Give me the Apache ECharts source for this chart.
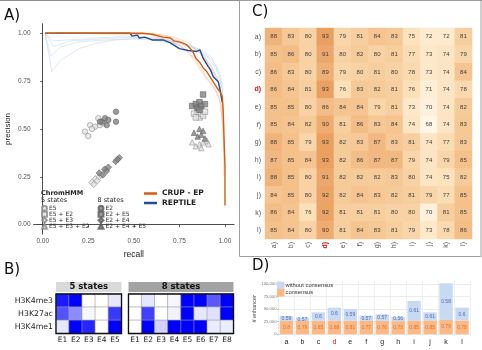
<!DOCTYPE html>
<html>
<head>
<meta charset="utf-8">
<script src="https://cdn.jsdelivr.net/npm/echarts@6/dist/echarts.min.js"></script>
<style>
html, body { margin: 0; padding: 0; background: #fff; }
#chart { width: 482px; height: 350px; }
</style>
</head>
<body>
<div id="chart"></div>
<script>
// ---------- A) precision / recall ----------
const recallTicks = [0, 0.25, 0.5, 0.75, 1];
const precisionTicks = [0, 0.25, 0.5, 0.75, 1];

const crupMain = [[0.013,1],[0.073,1],[0.48,1],[0.55,1],[0.6,0.995],[0.66,0.98],[0.7,0.975],[0.72,0.96],[0.75,0.955],[0.78,0.945],[0.8,0.93],[0.82,0.91],[0.84,0.87],[0.86,0.85],[0.88,0.82],[0.9,0.8],[0.92,0.77],[0.94,0.74],[0.96,0.71],[0.975,0.69],[0.985,0.67],[0.99,0.6],[0.995,0.45],[1,0.3],[1,0.1]];
const reptileMain = [[0.013,1],[0.073,1],[0.48,1],[0.49,0.985],[0.52,0.99],[0.53,0.975],[0.56,0.98],[0.6,0.965],[0.66,0.965],[0.7,0.95],[0.75,0.92],[0.8,0.91],[0.845,0.905],[0.863,0.913],[0.88,0.87],[0.908,0.826],[0.92,0.81],[0.936,0.773],[0.963,0.747],[0.973,0.704],[0.985,0.64]];

const crupRuns = [
  [[0.073,1],[0.55,1],[0.62,0.99],[0.7,0.96],[0.78,0.92],[0.84,0.86],[0.88,0.8],[0.92,0.74],[0.95,0.7],[0.98,0.62],[0.995,0.4]],
  [[0.073,1],[0.6,1],[0.68,0.985],[0.75,0.96],[0.82,0.93],[0.88,0.88],[0.92,0.83],[0.95,0.78],[0.975,0.72],[0.99,0.55],[1,0.3]],
  [[0.073,1],[0.58,0.995],[0.66,0.97],[0.74,0.94],[0.8,0.9],[0.85,0.83],[0.9,0.76],[0.94,0.72],[0.97,0.66],[0.99,0.5],[0.995,0.25]],
  [[0.073,1],[0.62,0.995],[0.72,0.98],[0.8,0.95],[0.86,0.9],[0.9,0.85],[0.93,0.8],[0.96,0.75],[0.985,0.68],[0.995,0.5]]
];
const reptileRuns = [
  [[0.013,1],[0.05,0.8],[0.1,0.86],[0.2,0.92],[0.3,0.95],[0.4,0.965],[0.5,0.97],[0.6,0.965],[0.7,0.95],[0.8,0.93],[0.88,0.9],[0.93,0.86],[0.97,0.8],[0.99,0.7]],
  [[0.013,1],[0.045,0.88],[0.1,0.93],[0.2,0.955],[0.35,0.965],[0.45,0.97],[0.55,0.975],[0.7,0.96],[0.8,0.94],[0.9,0.88],[0.95,0.82],[0.98,0.72]],
  [[0.013,1],[0.06,0.93],[0.15,0.96],[0.4,0.975],[0.5,0.98],[0.65,0.97],[0.8,0.935],[0.88,0.91],[0.93,0.87],[0.97,0.78],[0.99,0.68]],
  [[0.013,1],[0.055,0.96],[0.45,0.985],[0.6,0.975],[0.75,0.95],[0.85,0.92],[0.92,0.84],[0.96,0.76]]
];

// ChromHMM points [recall, precision]
const e5 = [[0.232,0.486],[0.25,0.463],[0.26,0.52],[0.287,0.512],[0.305,0.556],[0.314,0.52],[0.27,0.5],[0.332,0.53]];
const e5e2 = [[0.83,0.58],[0.85,0.59],[0.86,0.56],[0.87,0.58],[0.88,0.57],[0.89,0.59],[0.84,0.56]];
const e5e3 = [[0.27,0.22],[0.28,0.21],[0.29,0.24],[0.3,0.23],[0.31,0.25],[0.32,0.26]];
const e5e3e2 = [[0.82,0.43],[0.84,0.41],[0.86,0.42],[0.88,0.43],[0.9,0.44],[0.91,0.42],[0.87,0.4]];
const e2 = [[0.324,0.538],[0.342,0.556],[0.351,0.52],[0.314,0.538],[0.36,0.547],[0.402,0.59],[0.402,0.538]];
const e2e5 = [[0.82,0.62],[0.84,0.63],[0.85,0.61],[0.86,0.64],[0.87,0.62],[0.88,0.68],[0.89,0.63],[0.86,0.6]];
const e2e4 = [[0.31,0.27],[0.33,0.26],[0.34,0.29],[0.35,0.28],[0.36,0.3],[0.4,0.33],[0.42,0.35],[0.41,0.34]];
const e2e4e5 = [[0.83,0.48],[0.85,0.46],[0.86,0.5],[0.87,0.47],[0.88,0.49],[0.89,0.45]];

// ---------- B) emission heatmaps ----------
const marks = ['H3K4me3', 'H3K27ac', 'H3K4me1'];
const states5 = ['E1', 'E2', 'E3', 'E4', 'E5'];
const states8 = ['E1', 'E2', 'E3', 'E4', 'E5', 'E6', 'E7', 'E8'];
const emission5 = [
  [0.9, 1.0, 0.0, 0.0, 0.1],
  [0.68, 0.45, 0.03, 0.0, 0.78],
  [0.1, 1.0, 0.85, 0.0, 1.0]
];
const emission8 = [
  [0.0, 0.1, 0.0, 0.03, 1.0, 1.0, 0.65, 1.0],
  [0.0, 0.75, 0.0, 0.05, 1.0, 0.1, 0.12, 1.0],
  [0.0, 1.0, 0.18, 1.0, 1.0, 1.0, 0.08, 0.08]
];

// ---------- C) cross-sample matrix ----------
const sampleRows = ['a)', 'b)', 'c)', 'd)', 'e)', 'f)', 'g)', 'h)', 'i)', 'j)', 'k)', 'l)'];
const sampleCols = ['a)', 'b)', 'c)', 'd)', 'e)', 'f)', 'g)', 'h)', 'i)', 'j)', 'k)', 'l)'];
const accMatrix = [
  [88, 83, 80, 93, 79, 81, 84, 83, 75, 72, 72, 81],
  [85, 86, 80, 91, 80, 82, 80, 81, 77, 73, 74, 79],
  [86, 83, 80, 89, 79, 80, 81, 80, 78, 73, 74, 84],
  [86, 84, 81, 93, 76, 83, 82, 81, 76, 71, 74, 78],
  [85, 85, 80, 86, 84, 84, 79, 81, 73, 70, 74, 82],
  [85, 84, 82, 90, 81, 86, 83, 84, 74, 68, 74, 83],
  [88, 85, 79, 93, 82, 83, 87, 83, 81, 74, 77, 83],
  [87, 85, 84, 93, 82, 86, 87, 87, 79, 74, 79, 85],
  [88, 85, 80, 91, 82, 82, 82, 83, 80, 74, 75, 82],
  [84, 85, 80, 92, 82, 84, 83, 82, 81, 79, 77, 85],
  [86, 84, 76, 92, 81, 81, 81, 80, 80, 70, 81, 85],
  [85, 84, 80, 90, 81, 84, 83, 81, 79, 73, 78, 86]
];

// ---------- D) enhancer counts ----------
const samples = ['a', 'b', 'c', 'd', 'e', 'f', 'g', 'h', 'i', 'j', 'k', 'l'];
const consensusCounts = [26500, 26500, 27000, 27500, 27000, 26500, 26500, 26000, 27500, 27500, 28500, 27000];
const withoutCounts = [9900, 6600, 16700, 25500, 23300, 10500, 13200, 8400, 38700, 16200, 72900, 26000];
const consensusLabels = ['0.8', '0.79', '0.85', '0.88', '0.81', '0.77', '0.76', '0.73', '0.85', '0.85', '0.79', '0.78'];
const withoutLabels = ['0.59', '0.57', '0.6', '0.6', '0.59', '0.57', '0.57', '0.56', '0.61', '0.61', '0.58', '0.6'];
const enhancerTicks = [0, 25000, 50000, 75000, 100000];

// ---------- layout ----------
const gA = { left: 33.6, top: 23.7, width: 200.5, height: 210.5 };
const gB5 = { left: 56, top: 294, width: 65.5, height: 39.5 };
const gB8 = { left: 128.5, top: 294, width: 105, height: 39.5 };
const gC = { left: 265, top: 28, width: 207, height: 211 };
const gD = { left: 278.5, top: 280.7, width: 191.5, height: 56.1 };

const sansAxis = 'Liberation Sans';
const sansText = 'DejaVu Sans';

const chart = echarts.init(document.getElementById('chart'), null, { renderer: 'canvas' });

const series = [];

// faint replicate runs
crupRuns.forEach((d, i) => series.push({
  name: 'crup run ' + i, type: 'line', xAxisIndex: 0, yAxisIndex: 0, data: d,
  symbol: 'none', lineStyle: { color: '#f3b27e', width: 0.6, opacity: 0.8 }, z: 2
}));
reptileRuns.forEach((d, i) => series.push({
  name: 'reptile run ' + i, type: 'line', xAxisIndex: 0, yAxisIndex: 0, data: d,
  symbol: 'none', lineStyle: { color: '#c3d3ea', width: 0.6, opacity: 0.9 }, z: 2
}));
series.push({
  name: 'CRUP - EP', type: 'line', xAxisIndex: 0, yAxisIndex: 0, data: crupMain,
  symbol: 'none', color: '#cf5f14', lineStyle: { color: '#cf5f14', width: 1.4 }, z: 4
});
series.push({
  name: 'REPTILE', type: 'line', xAxisIndex: 0, yAxisIndex: 0, data: reptileMain,
  symbol: 'none', color: '#1f4e96', lineStyle: { color: '#1f4e96', width: 1.4 }, z: 3
});

const openStyle = { color: '#e3e3e3', borderColor: '#8a8a8a', borderWidth: 0.7 };
const filledStyle = { color: '#858585', borderColor: '#5a5a5a', borderWidth: 0.7 };
const pts = [
  ['E5', e5, 'circle', openStyle],
  ['E5 + E2', e5e2, 'rect', openStyle],
  ['E5 + E3', e5e3, 'diamond', openStyle],
  ['E5 + E3 + E2', e5e3e2, 'triangle', openStyle],
  ['E2', e2, 'circle', filledStyle],
  ['E2 + E5', e2e5, 'rect', filledStyle],
  ['E2 + E4', e2e4, 'diamond', filledStyle],
  ['E2 + E4 + E5', e2e4e5, 'triangle', filledStyle]
];
pts.forEach(p => series.push({
  name: p[0], type: 'scatter', xAxisIndex: 0, yAxisIndex: 0, data: p[1],
  symbol: p[2], symbolSize: p[2] === 'diamond' ? 6.5 : 5.5, itemStyle: p[3], z: 5
}));

// B heatmaps
const toCells = m => {
  const out = [];
  m.forEach((row, r) => row.forEach((v, c) => out.push([c, r, v])));
  return out;
};
const idxB5 = series.length;
series.push({
  type: 'heatmap', xAxisIndex: 1, yAxisIndex: 1, data: toCells(emission5),
  itemStyle: { borderColor: '#9a9a9a', borderWidth: 0.6 }
});
const idxB8 = series.length;
series.push({
  type: 'heatmap', xAxisIndex: 2, yAxisIndex: 2, data: toCells(emission8),
  itemStyle: { borderColor: '#9a9a9a', borderWidth: 0.6 }
});

// C matrix
const idxC = series.length;
series.push({
  type: 'heatmap', xAxisIndex: 3, yAxisIndex: 3, data: toCells(accMatrix),
  itemStyle: { borderWidth: 0 }, emphasis: { disabled: true },
  label: { show: true, fontSize: 6, color: '#3b3b3b', fontFamily: sansAxis, formatter: p => p.value[2] }
});

// D stacked bars
series.push({
  name: 'consensus', type: 'bar', stack: 'n', xAxisIndex: 4, yAxisIndex: 4, data: consensusCounts,
  barWidth: '84%', itemStyle: { color: '#fdb985' },
  label: { show: true, position: 'inside', fontSize: 5, color: '#d8702c', fontFamily: sansAxis,
    formatter: p => consensusLabels[p.dataIndex] }
});
series.push({
  name: 'without consensus', type: 'bar', stack: 'n', xAxisIndex: 4, yAxisIndex: 4, data: withoutCounts,
  barWidth: '84%', itemStyle: { color: '#c8daf2' },
  label: { show: true, position: 'inside', fontSize: 5, color: '#4a6ab8', fontFamily: sansAxis,
    formatter: p => withoutLabels[p.dataIndex] }
});

const redLabel = v => (v === 'd)' || v === 'd') ? '{red|' + v + '}' : v;

const option = {
  animation: false,
  backgroundColor: '#ffffff',
  grid: [
    Object.assign({ outerBoundsMode: 'none' }, gA),
    Object.assign({ outerBoundsMode: 'none' }, gB5),
    Object.assign({ outerBoundsMode: 'none' }, gB8),
    // C grid background sits under the cells so any seam between them takes a matching tint
    Object.assign({ outerBoundsMode: 'none', show: true, backgroundColor: '#f9d6a8', borderWidth: 0 }, gC),
    Object.assign({ outerBoundsMode: 'none' }, gD)
  ],
  xAxis: [
    {
      gridIndex: 0, type: 'value', min: -0.05, max: 1.05,
      name: 'recall', nameLocation: 'middle', nameGap: 15,
      nameTextStyle: { fontSize: 8.5, color: '#222', fontFamily: sansAxis },
      axisLine: { show: true, lineStyle: { color: '#3a3a3a', width: 0.9 } },
      axisTick: { show: true, length: 2.5, customValues: recallTicks, lineStyle: { color: '#3a3a3a', width: 0.8 } },
      axisLabel: { customValues: recallTicks, fontSize: 6.5, color: '#555', margin: 4, fontFamily: sansAxis,
        formatter: v => v.toFixed(2) },
      splitLine: { show: false }
    },
    {
      gridIndex: 1, type: 'category', data: states5,
      axisLine: { show: false }, axisTick: { show: false },
      axisLabel: { fontSize: 7.5, color: '#222', margin: 3, fontFamily: sansText },
      splitLine: { show: false }
    },
    {
      gridIndex: 2, type: 'category', data: states8,
      axisLine: { show: false }, axisTick: { show: false },
      axisLabel: { fontSize: 7.5, color: '#222', margin: 3, fontFamily: sansText },
      splitLine: { show: false }
    },
    {
      gridIndex: 3, type: 'category', data: sampleCols,
      axisLine: { show: false }, axisTick: { show: false },
      axisLabel: { interval: 0, fontSize: 7, color: '#555', margin: 3, rotate: 90, fontFamily: sansAxis,
        formatter: redLabel, rich: { red: { color: '#cc1010', fontWeight: 'bold', fontSize: 7 } } },
      splitLine: { show: false }, splitArea: { show: false }
    },
    {
      gridIndex: 4, type: 'category', data: samples,
      axisLine: { show: false }, axisTick: { show: false },
      axisLabel: { interval: 0, fontSize: 7, color: '#222', margin: 2, fontFamily: sansAxis,
        formatter: redLabel, rich: { red: { color: '#cc1010', fontSize: 7 } } },
      splitLine: { show: true, interval: 0, lineStyle: { color: '#e6e6e6', width: 0.7 } }
    }
  ],
  yAxis: [
    {
      gridIndex: 0, type: 'value', min: -0.05, max: 1.05,
      name: 'precision', nameLocation: 'middle', nameGap: 22, nameRotate: 90,
      nameTextStyle: { fontSize: 8, color: '#222', fontFamily: sansAxis },
      axisLine: { show: true, lineStyle: { color: '#3a3a3a', width: 0.9 } },
      axisTick: { show: true, length: 2.5, customValues: precisionTicks, lineStyle: { color: '#3a3a3a', width: 0.8 } },
      axisLabel: { customValues: precisionTicks, fontSize: 6.5, color: '#555', margin: 3, fontFamily: sansAxis,
        formatter: v => v.toFixed(2) },
      splitLine: { show: false }
    },
    {
      gridIndex: 1, type: 'category', data: marks, inverse: true,
      axisLine: { show: false }, axisTick: { show: false },
      axisLabel: { fontSize: 7.8, color: '#222', margin: 3, fontFamily: sansText },
      splitLine: { show: false }
    },
    {
      gridIndex: 2, type: 'category', data: marks, inverse: true,
      axisLine: { show: false }, axisTick: { show: false }, axisLabel: { show: false },
      splitLine: { show: false }
    },
    {
      gridIndex: 3, type: 'category', data: sampleRows, inverse: true,
      axisLine: { show: false }, axisTick: { show: false },
      axisLabel: { interval: 0, fontSize: 7, color: '#555', margin: 4, fontFamily: sansAxis,
        formatter: redLabel, rich: { red: { color: '#cc1010', fontWeight: 'bold', fontSize: 7 } } },
      splitLine: { show: false }, splitArea: { show: false }
    },
    {
      gridIndex: 4, type: 'value', min: -5000, max: 106500,
      name: '# enhancer', nameLocation: 'middle', nameGap: 18, nameRotate: 90,
      nameTextStyle: { fontSize: 5.5, color: '#444', fontFamily: sansAxis },
      axisLine: { show: false },
      axisTick: { show: true, length: 1.5, customValues: enhancerTicks, lineStyle: { color: '#777', width: 0.5 } },
      axisLabel: { customValues: enhancerTicks, fontSize: 4.2, color: '#777', margin: 2, fontFamily: sansAxis },
      splitLine: { show: true, lineStyle: { color: '#e3e3e3', width: 0.7 } }
    }
  ],
  visualMap: [
    { type: 'continuous', show: false, seriesIndex: [idxB5, idxB8], min: 0, max: 1,
      inRange: { color: ['#ffffff', '#0000ff'] } },
    { type: 'continuous', show: false, seriesIndex: idxC, min: 68, max: 93, dimension: 2,
      inRange: { color: ['#fff6e8', '#fbdfb6', '#f4c28d', '#eaa061'] } }
  ],
  legend: [
    {
      left: 41, top: 204.8, orient: 'vertical', padding: 0, itemGap: -1,
      itemWidth: 5, itemHeight: 5, selectedMode: false,
      data: ['E5', 'E5 + E2', 'E5 + E3', 'E5 + E3 + E2'],
      textStyle: { fontSize: 6, color: '#333', fontFamily: sansText, padding: [0, 0, 0, -3] }
    },
    {
      left: 97.5, top: 204.8, orient: 'vertical', padding: 0, itemGap: -1,
      itemWidth: 5, itemHeight: 5, selectedMode: false,
      data: ['E2', 'E2 + E5', 'E2 + E4', 'E2 + E4 + E5'],
      textStyle: { fontSize: 6, color: '#333', fontFamily: sansText, padding: [0, 0, 0, -3] }
    },
    {
      left: 144, top: 189.5, orient: 'vertical', padding: 0, itemGap: 1.5,
      itemWidth: 13, itemHeight: 2.5, icon: 'rect', selectedMode: false,
      data: ['CRUP - EP', 'REPTILE'],
      textStyle: { fontSize: 7.5, fontWeight: 'bold', color: '#222', fontFamily: sansText }
    },
    {
      left: 277, top: 281.5, orient: 'vertical', padding: 0, itemGap: 0,
      itemWidth: 7.5, itemHeight: 7.5, icon: 'rect', selectedMode: false,
      data: ['without consensus', 'consensus'],
      textStyle: { fontSize: 5.8, color: '#333', fontFamily: sansAxis, padding: [0, 0, 0, -4] }
    }
  ],
  graphic: [
    // panel frame lines
    { type: 'line', shape: { x1: 0, y1: 0.5, x2: 482, y2: 0.5 }, style: { stroke: '#8f8f8f', lineWidth: 1 } },
    { type: 'rect', shape: { x: 239.5, y: 0.5, width: 241.5, height: 256 }, style: { fill: 'none', stroke: '#a0a0a0', lineWidth: 1 } },
    // panel letters
    { type: 'text', style: { text: 'A)', x: 4, y: 16, font: '15px DejaVu Sans', fill: '#111', textVerticalAlign: 'middle' } },
    { type: 'text', style: { text: 'B)', x: 4, y: 270, font: '15px DejaVu Sans', fill: '#111', textVerticalAlign: 'middle' } },
    { type: 'text', style: { text: 'C)', x: 252, y: 12, font: '15px DejaVu Sans', fill: '#111', textVerticalAlign: 'middle' } },
    { type: 'text', style: { text: 'D)', x: 252, y: 266, font: '15px DejaVu Sans', fill: '#111', textVerticalAlign: 'middle' } },
    // ChromHMM legend headers
    { type: 'text', style: { text: 'ChromHMM', x: 41, y: 193.3, font: 'bold 6.5px DejaVu Sans', fill: '#222', textVerticalAlign: 'middle' } },
    { type: 'text', style: { text: '5 states', x: 41, y: 200.7, font: '6.5px DejaVu Sans', fill: '#222', textVerticalAlign: 'middle' } },
    { type: 'text', style: { text: '8 states', x: 97.5, y: 200.7, font: '6.5px DejaVu Sans', fill: '#222', textVerticalAlign: 'middle' } },
    // B strips
    { type: 'rect', shape: { x: gB5.left, y: 282, width: gB5.width, height: 10 }, style: { fill: '#d9d9d9' } },
    { type: 'text', style: { text: '5 states', x: gB5.left + gB5.width / 2, y: 287.2, font: 'bold 8.5px DejaVu Sans', fill: '#111', textAlign: 'center', textVerticalAlign: 'middle' } },
    { type: 'rect', shape: { x: gB8.left, y: 282, width: gB8.width, height: 10 }, style: { fill: '#a3a3a3' } },
    { type: 'text', style: { text: '8 states', x: gB8.left + gB8.width / 2, y: 287.2, font: 'bold 8.5px DejaVu Sans', fill: '#111', textAlign: 'center', textVerticalAlign: 'middle' } },
    // B borders
    { type: 'rect', z: 100, shape: { x: gB5.left, y: gB5.top, width: gB5.width, height: gB5.height }, style: { fill: 'none', stroke: '#111', lineWidth: 1.3 } },
    { type: 'rect', z: 100, shape: { x: gB8.left, y: gB8.top, width: gB8.width, height: gB8.height }, style: { fill: 'none', stroke: '#111', lineWidth: 1.3 } }
  ],
  series: series
};

chart.setOption(option);
</script>
</body>
</html>
